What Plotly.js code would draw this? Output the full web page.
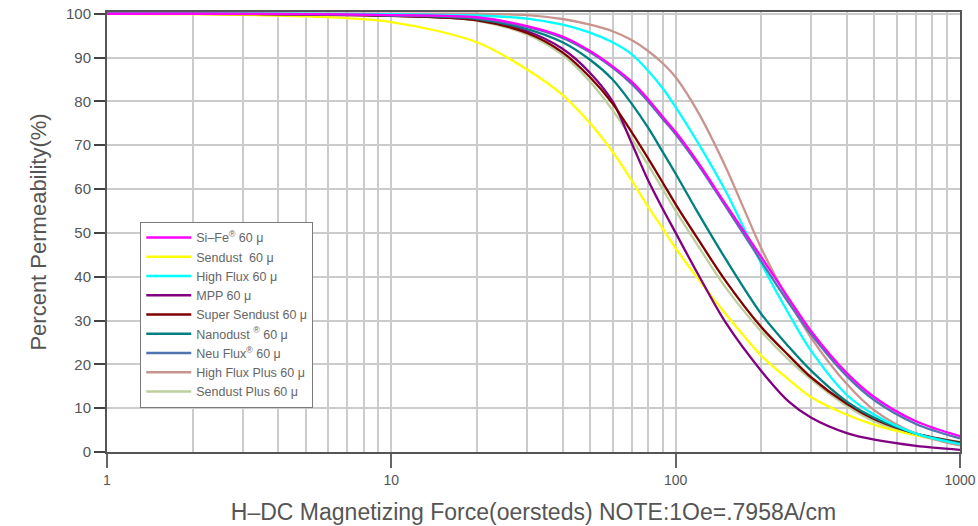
<!DOCTYPE html>
<html>
<head>
<meta charset="utf-8">
<script src="https://cdn.plot.ly/plotly-3.0.1.min.js"></script>
<style>html,body{margin:0;padding:0;background:#fff;}#chart{width:978px;height:526px;}</style>
</head>
<body>
<div id="chart"></div>
<script>
// Magnetizing force H (oersteds)
const H = [1, 2, 5, 10, 20, 30, 40, 50, 60, 70, 80, 90, 100, 120, 150, 200, 250, 300, 400, 500, 700, 1000];

const siFe        = [100, 100, 99.9, 99.7, 99.2, 97.2, 94.8, 91.5, 88, 84.5, 80.5, 76.5, 73, 66, 56.5, 44.5, 35, 27.5, 18, 12.5, 7, 3.6];
const sendust     = [100, 99.9, 99.4, 98.1, 93.5, 87.3, 81.5, 75, 68.5, 62, 56, 51, 46.5, 39.5, 31.5, 22, 16.5, 12.5, 8.5, 6.2, 3.8, 2.0];
const highFlux    = [100, 100, 100, 99.9, 99.6, 98.9, 97.5, 95.7, 93.5, 90.8, 87, 83, 78.7, 70.5, 59.5, 43, 31.5, 23, 13, 8.5, 4.2, 1.8];
const mpp         = [100, 100, 99.9, 99.6, 98.6, 96, 92, 86.5, 80, 70.5, 62, 55.5, 50, 40.5, 29.5, 18.5, 11.5, 7.8, 4.3, 2.8, 1.4, 0.5];
const superSend   = [100, 100, 99.8, 99.5, 98.5, 95.6, 91.2, 85.5, 79.5, 73, 67, 61.5, 56.5, 48.5, 39, 28.5, 22, 17, 11, 7.5, 4.2, 2.2];
const nanodust    = [100, 100, 99.9, 99.6, 98.8, 96.5, 93.5, 89.5, 85, 79.5, 74, 68.5, 63.5, 54.5, 44, 31.5, 24, 18.5, 11.5, 7.8, 4.2, 2.0];
const neuFlux     = [100, 100, 99.9, 99.7, 99.0, 97.0, 94.5, 91.2, 87.7, 84, 80, 76, 72.5, 65.5, 56, 43.5, 34, 26.8, 17.3, 11.8, 6.4, 3.1];
const highFluxPl  = [100, 100, 100, 100, 100, 99.7, 98.8, 97.5, 96, 94, 91.5, 88.7, 85.5, 77.5, 65, 46.5, 34.5, 26, 15.5, 9.5, 4.2, 1.5];
const sendustPl   = [100, 100, 99.8, 99.5, 98.4, 95.3, 90.6, 84.5, 78, 71.5, 65.5, 60, 55, 47, 37.5, 27.5, 21, 16.5, 10.5, 7, 4, 2.3];

const seriesNames = ['Si\u2013Fe<sup>\u00ae</sup> 60 \u03bc', 'Sendust  60 \u03bc', 'High Flux 60 \u03bc', 'MPP 60 \u03bc',
  'Super Sendust 60 \u03bc', 'Nanodust <sup>\u00ae</sup> 60 \u03bc', 'Neu Flux<sup>\u00ae</sup> 60 \u03bc',
  'High Flux Plus 60 \u03bc', 'Sendust Plus 60 \u03bc'];
const seriesValues = [siFe, sendust, highFlux, mpp, superSend, nanodust, neuFlux, highFluxPl, sendustPl];
const seriesColors = ['#ff00ff', '#ffff00', '#00ffff', '#800080', '#800000', '#008080', '#4f74b0', '#c8948e', '#bccf9c'];

// draw order (back to front)
const drawOrder = [8, 1, 3, 4, 5, 7, 2, 6, 0];
const traces = [];
for (let k = 0; k < seriesNames.length; k++) {
  traces.push({
    x: H, y: seriesValues[k], name: seriesNames[k], type: 'scatter', mode: 'lines',
    line: {color: seriesColors[k], width: 2.3, shape: 'spline', smoothing: 0.9},
    legendrank: k + 1
  });
}

const axisFont = {family: 'Liberation Sans, Arial, sans-serif', size: 15, color: '#555'};
const layout = {
  width: 978, height: 526,
  margin: {l: 107, r: 18, t: 12, b: 74},
  paper_bgcolor: '#fff', plot_bgcolor: '#fff',
  showlegend: true,
  legend: {
    x: 0.039, y: 0.523, xanchor: 'left', yanchor: 'top',
    bgcolor: '#fff', bordercolor: '#7a7a7a', borderwidth: 1,
    font: {family: 'Liberation Sans, Arial, sans-serif', size: 12.5, color: '#666'},
    itemwidth: 45, tracegroupgap: 0
  },
  xaxis: {
    type: 'log', range: [0, 3],
    tickvals: [1, 10, 100, 1000], ticktext: ['1', '10', '100', '1000'],
    ticks: 'outside', ticklen: 14, tickwidth: 2, tickcolor: '#666',
    tickfont: {family: 'Liberation Sans, Arial, sans-serif', size: 14, color: '#555'},
    showgrid: true, gridcolor: '#cbcbcb', gridwidth: 2,
    minor: {dtick: 'D1', showgrid: true, gridcolor: '#cbcbcb', gridwidth: 2, ticks: ''},
    showline: true, linecolor: '#555', linewidth: 2, mirror: true,
    zeroline: false,
    title: {text: 'H\u2013DC Magnetizing Force(oersteds) NOTE:1Oe=.7958A/cm', standoff: 17,
      font: {family: 'Liberation Sans, Arial, sans-serif', size: 23, color: '#555'}}
  },
  yaxis: {
    range: [0, 100.4], dtick: 10, tick0: 0,
    ticks: 'outside', ticklen: 11, tickwidth: 2, tickcolor: '#444',
    tickfont: axisFont,
    showgrid: true, gridcolor: '#cbcbcb', gridwidth: 2,
    showline: true, linecolor: '#555', linewidth: 2, mirror: true,
    zeroline: false,
    title: {text: 'Percent Permeability(%)', standoff: 13,
      font: {family: 'Liberation Sans, Arial, sans-serif', size: 22, color: '#555'}}
  }
};

const ordered = drawOrder.map(i => traces[i]);
Plotly.newPlot('chart', ordered, layout, {displayModeBar: false, staticPlot: true});
</script>
</body>
</html>
